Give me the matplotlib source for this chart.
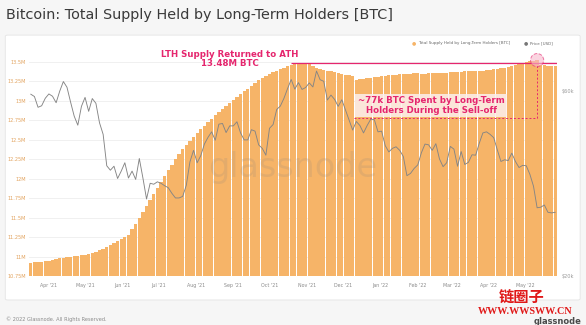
import numpy as np
import pandas as pd
import matplotlib
matplotlib.use('Agg')
import matplotlib.pyplot as plt
import matplotlib.dates as mdates
from matplotlib.patches import FancyBboxPatch
from matplotlib.ticker import NullLocator

# bars every 3 days, Mar 17 2021 -> May 26 2022
dates = pd.date_range('2021-03-17', periods=146, freq='3D')

lth_supply = [
    10.92, 10.925, 10.93, 10.935, 10.94, 10.945, 10.955, 10.965, 10.975, 10.98,
    10.99, 11.00, 11.005, 11.01, 11.02, 11.025, 11.03, 11.04, 11.06, 11.08,
    11.10, 11.125, 11.15, 11.17, 11.195, 11.22, 11.245, 11.28, 11.35, 11.42,
    11.49, 11.57, 11.645, 11.72, 11.80, 11.875, 11.95, 12.03, 12.11, 12.18,
    12.25, 12.32, 12.385, 12.435, 12.485, 12.535, 12.585, 12.635, 12.68, 12.72,
    12.765, 12.81, 12.85, 12.89, 12.93, 12.97, 13.01, 13.05, 13.085, 13.12,
    13.155, 13.19, 13.225, 13.26, 13.29, 13.315, 13.34, 13.365, 13.385, 13.405,
    13.425, 13.44, 13.455, 13.465, 13.475, 13.48, 13.48, 13.475, 13.45, 13.42,
    13.40, 13.39, 13.385, 13.38, 13.37, 13.36, 13.345, 13.335, 13.33, 13.31,
    13.27, 13.275, 13.28, 13.29, 13.295, 13.30, 13.305, 13.31, 13.315, 13.325,
    13.33, 13.335, 13.34, 13.34, 13.345, 13.345, 13.35, 13.35, 13.345, 13.345,
    13.35, 13.35, 13.355, 13.355, 13.36, 13.36, 13.365, 13.365, 13.37, 13.37,
    13.375, 13.375, 13.38, 13.38, 13.385, 13.385, 13.39, 13.39, 13.40, 13.405,
    13.415, 13.425, 13.435, 13.45, 13.46, 13.475, 13.485, 13.495, 13.505, 13.515,
    13.52, 13.46, 13.455, 13.45, 13.445, 13.443,
]

# BTC price, thousands of USD
price_k = [
    58.9, 58.1, 54.5, 55.0, 57.5, 59.0, 58.2, 56.0, 60.0, 63.5,
    61.4, 56.2, 51.7, 49.0, 54.8, 57.8, 53.2, 57.4, 55.8, 49.7,
    46.4, 38.5, 37.5, 38.4, 35.7, 37.3, 39.2, 35.8, 37.3, 35.5,
    40.2, 35.8, 31.6, 34.7, 34.5, 35.0, 34.7, 34.2, 33.8, 32.7,
    31.8, 31.8, 32.1, 34.3, 39.4, 42.2, 39.2, 40.9, 43.8, 45.6,
    47.1, 44.8, 49.3, 49.5, 46.9, 48.8, 48.8, 50.0, 46.8, 44.9,
    44.9, 47.7, 47.3, 43.6, 42.7, 41.0, 48.1, 49.2, 53.8, 54.9,
    57.5, 60.9, 64.3, 60.7, 63.1, 60.6, 61.3, 63.0, 61.5, 67.6,
    64.2, 63.6, 56.9, 58.6, 57.1, 54.8, 57.0, 53.7, 50.6, 47.6,
    50.1, 48.9, 46.8, 48.9, 50.8, 50.6, 47.1, 47.3, 43.4, 41.8,
    42.7, 43.1, 42.2, 40.7, 36.3, 36.8, 37.9, 38.7, 41.6, 43.8,
    43.6, 42.2, 43.9, 40.1, 38.3, 39.2, 43.2, 42.5, 38.4, 41.9,
    38.8, 39.3, 41.1, 41.0, 44.0, 46.8, 47.1, 46.4, 45.5, 42.3,
    39.5, 39.9, 39.7, 41.5, 39.5, 38.1, 38.6, 38.5, 36.6, 34.1,
    30.0, 30.1, 30.5, 29.2, 29.1, 29.2,
]

supply_ticks = [10.75, 11, 11.25, 11.5, 11.75, 12, 12.25, 12.5, 12.75, 13, 13.25, 13.5]
supply_labels = ['10.75M', '11M', '11.25M', '11.5M', '11.75M', '12M', '12.25M',
                 '12.5M', '12.75M', '13M', '13.25M', '13.5M']
price_ticks = [20000, 60000]
price_labels = ['$20k', '$60k']
month_ticks = pd.date_range('2021-04-01', '2022-05-01', freq='MS')

ath_value = 13.48
ath_start = pd.Timestamp('2021-10-19')
new_peak_date = pd.Timestamp('2022-05-11')
new_peak_value = 13.52
box_left = pd.Timestamp('2021-12-10')
box_bottom = 12.78

pink = '#e5266e'
orange = '#f6b468'

fig = plt.figure(figsize=(5.86, 3.25), dpi=100, facecolor='#f6f6f6')
fig.patches.append(FancyBboxPatch((0.009, 0.077), 0.981, 0.815,
                                  boxstyle='round,pad=0,rounding_size=0.004',
                                  transform=fig.transFigure, facecolor='white',
                                  edgecolor='#e4e4e4', lw=0.6, zorder=-10))

ax = fig.add_axes([29/586, 1 - 276/325, 528/586, 226/325])
ax.set_facecolor('none')
ax.bar(dates, lth_supply, width=2.75, color=orange, linewidth=0, zorder=2)
ax.set_ylim(10.75, 13.65)
ax.set_xlim(dates[0] - pd.Timedelta(days=1.5), dates[-1] + pd.Timedelta(days=1.5))
ax.set_yticks(supply_ticks)
ax.set_yticklabels(supply_labels)
ax.yaxis.grid(True, color='#eeeeee', lw=0.6)
ax.set_axisbelow(True)
ax.set_xticks(month_ticks)
ax.xaxis.set_major_formatter(mdates.DateFormatter("%b '%y"))
ax.tick_params(axis='y', length=0, labelsize=3.6, labelcolor='#e2a35e', pad=2)
ax.tick_params(axis='x', length=0, labelsize=3.4, labelcolor='#8a8a8a', pad=5)
for s in ax.spines.values():
    s.set_visible(False)

# watermark
ax.text(0.5, 0.48, 'glassnode', transform=ax.transAxes, fontsize=24, color='#9a8a7a',
        alpha=0.2, ha='center', va='center', zorder=3)

# annotations
ax.hlines(ath_value, ath_start, dates[-1] + pd.Timedelta(days=1.5), color=pink, lw=0.9, zorder=5)
ax.text(pd.Timestamp('2021-08-29'), 13.535, 'LTH Supply Returned to ATH\n13.48M BTC',
        ha='center', va='center', fontsize=6.2, fontweight='bold', color=pink,
        linespacing=1.05, zorder=6)
ax.plot([box_left, new_peak_date], [box_bottom, box_bottom], color=pink, lw=0.7,
        ls=(0, (2, 2)), zorder=5)
ax.plot([new_peak_date, new_peak_date], [box_bottom, ath_value], color=pink, lw=0.7,
        ls=(0, (2, 2)), zorder=5)
ax.text(pd.Timestamp('2022-02-12'), 12.94, '~77k BTC Spent by Long-Term\nHolders During the Sell-off',
        ha='center', va='center', fontsize=6.2, fontweight='bold', color=pink,
        linespacing=1.05, zorder=6,
        bbox=dict(boxstyle='square,pad=0.3', facecolor='#fdf0ee', edgecolor='none', alpha=0.85))
ax.scatter([new_peak_date], [new_peak_value], s=90, facecolor='#f7b8cc', alpha=0.6,
           edgecolor=pink, linewidths=0.7, linestyle='--', zorder=6)

ax2 = ax.twinx()
ax2.set_yscale('log')
ax2.plot(dates, np.array(price_k) * 1000, color='#858585', lw=0.65, zorder=4)
ax2.set_ylim(20000, 76600)
ax2.set_yticks(price_ticks)
ax2.set_yticklabels(price_labels)
ax2.yaxis.set_minor_locator(NullLocator())
ax2.tick_params(axis='y', length=0, labelsize=3.6, labelcolor='#999999', pad=3)
for s in ax2.spines.values():
    s.set_visible(False)

# title
fig.text(6/586, 1 - 15/325, 'Bitcoin: Total Supply Held by Long-Term Holders [BTC]',
         fontsize=10.4, color='#3a3a3a', ha='left', va='center')

# legend
fig.text(414/586, 1 - 43/325, '●', fontsize=3.5, color=orange, ha='center', va='center')
fig.text(418/586, 1 - 43/325, 'Total Supply Held by Long-Term Holders [BTC]', fontsize=2.9,
         color='#666666', ha='left', va='center')
fig.text(526/586, 1 - 43/325, '●', fontsize=3.5, color='#777777', ha='center', va='center')
fig.text(530/586, 1 - 43/325, 'Price [USD]', fontsize=2.9, color='#666666', ha='left', va='center')

# footer
fig.text(6/586, 1 - 319/325, '© 2022 Glassnode. All Rights Reserved.', fontsize=3.6,
         color='#8a8a8a', ha='left', va='center')
fig.text(581/586, 1 - 321/325, 'glassnode', fontsize=6, color='#4a4a4a', fontweight='bold',
         ha='right', va='center')
fig.text(522/586, 1 - 297.5/325, '链圈子', fontsize=11, color='#e01818', fontweight='bold',
         family=['Noto Sans CJK SC', 'DejaVu Sans'], ha='center', va='center')
fig.text(525/586, 1 - 311.5/325, 'WWW.WWSWW.CN', fontsize=7.3, color='#e01818', fontweight='bold',
         family='Liberation Serif', ha='center', va='center')

fig.savefig('out.png', dpi=100, facecolor=fig.get_facecolor())
